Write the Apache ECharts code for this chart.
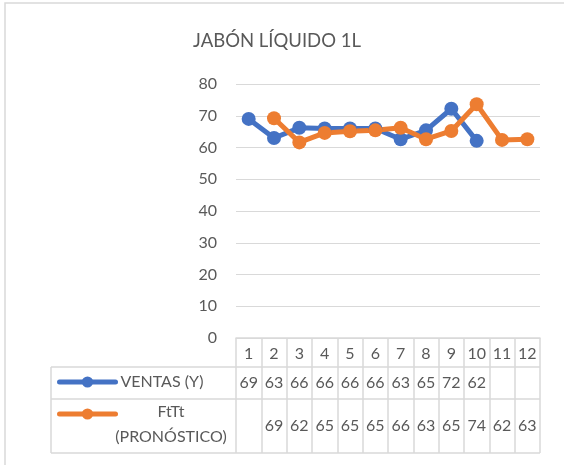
<!DOCTYPE html>
<html>
<head>
<meta charset="utf-8">
<script src="https://cdn.jsdelivr.net/npm/echarts@6/dist/echarts.min.js"></script>
<style>
html,body{margin:0;padding:0;background:#fff;}
#c{width:564px;height:465px;}
</style>
</head>
<body>
<div id="c"></div>
<script>
const title = 'JABÓN LÍQUIDO 1L';
const categories = ['1','2','3','4','5','6','7','8','9','10','11','12'];
const seriesNames = ['VENTAS (Y)', 'FtTt (PRONÓSTICO)'];
const ventas = [69, 63, 66.2, 66, 66, 66, 62.6, 65.4, 72.2, 62.1, null, null];
const pronostico = [null, 69.2, 61.6, 64.6, 65.1, 65.4, 66.2, 62.6, 65.2, 73.6, 62.4, 62.6];
const yTicks = [0, 10, 20, 30, 40, 50, 60, 70, 80];

const FONT = 'Lato';
const TXT = '#595959';
const LINE = '#D9D9D9';
const BLUE = '#4472C4';
const ORANGE = '#ED7D31';

const G = {left: 236, right: 24, top: 84, bottom: 127};
const W = 564, H = 465;
const plotBottom = H - G.bottom;       // 338
const plotRight = W - G.right;         // 540
const row1 = plotBottom + 29;          // 367
const row2 = row1 + 32;                // 399
const row3 = row2 + 54;                // 453
const tableLeft = 51;

const fmt = v => (v === null || v === undefined) ? '' : String(Math.round(v));

const chart = echarts.init(document.getElementById('c'), null, {renderer: 'canvas'});
const lineStyleT = {color: LINE, width: 1.5};

chart.setOption({
  animation: false,
  backgroundColor: '#fff',
  textStyle: {fontFamily: FONT},
  title: {
    text: title, left: 188, top: 27,
    textStyle: {fontFamily: FONT, fontSize: 18.5, fontWeight: 'normal', color: TXT}
  },
  grid: {left: G.left, right: G.right, top: G.top, bottom: G.bottom, containLabel: false},
  legend: [
    {
      data: [seriesNames[0]], orient: 'vertical', left: 57, top: 374, padding: 0,
      itemWidth: 56, itemHeight: 14, itemGap: 5,
      lineStyle: {width: 5, cap: 'round'},
      textStyle: {fontFamily: FONT, fontSize: 16, color: TXT}
    },
    {
      data: [seriesNames[1]], orient: 'vertical', left: 57, top: 407, padding: 0,
      itemWidth: 56, itemHeight: 14,
      lineStyle: {width: 5, cap: 'round'},
      formatter: () => '',
      textStyle: {fontFamily: FONT, fontSize: 16, color: TXT}
    }
  ],
  xAxis: [
    {
      type: 'category', data: categories, position: 'bottom', boundaryGap: true,
      axisLine: {show: true, onZero: false, lineStyle: lineStyleT},
      axisTick: {show: true, length: row3 - plotBottom, lineStyle: lineStyleT},
      axisLabel: {margin: 16, verticalAlign: 'middle', fontSize: 16, color: TXT, fontFamily: FONT, interval: 0},
      splitLine: {show: false}
    },
    {
      type: 'category', data: ventas.map(fmt), position: 'bottom', boundaryGap: true,
      axisLine: {show: false}, axisTick: {show: false},
      axisLabel: {margin: 45, verticalAlign: 'middle', fontSize: 16, color: TXT, fontFamily: FONT, interval: 0},
      splitLine: {show: false}
    },
    {
      type: 'category', data: pronostico.map(fmt), position: 'bottom', boundaryGap: true,
      axisLine: {show: false}, axisTick: {show: false},
      axisLabel: {margin: 88, verticalAlign: 'middle', fontSize: 16, color: TXT, fontFamily: FONT, interval: 0},
      splitLine: {show: false}
    }
  ],
  yAxis: {
    type: 'value', min: yTicks[0], max: yTicks[yTicks.length - 1], interval: 10,
    axisLine: {show: false}, axisTick: {show: false},
    axisLabel: {margin: 19, fontSize: 16, color: TXT, fontFamily: FONT},
    splitLine: {show: true, lineStyle: {color: LINE, width: 1}}
  },
  series: [
    {
      name: seriesNames[0], type: 'line', xAxisIndex: 0, data: ventas,
      symbol: 'circle', symbolSize: 14, connectNulls: false,
      lineStyle: {color: BLUE, width: 5}, itemStyle: {color: BLUE}
    },
    {
      name: seriesNames[1], type: 'line', xAxisIndex: 0, data: pronostico,
      symbol: 'circle', symbolSize: 14, connectNulls: false,
      lineStyle: {color: ORANGE, width: 5}, itemStyle: {color: ORANGE}
    }
  ],
  graphic: [
    {type: 'rect', shape: {x: 5, y: 3, width: 700, height: 600}, style: {fill: 'none', stroke: LINE, lineWidth: 1.5}, silent: true},
    {type: 'line', shape: {x1: tableLeft, y1: row1, x2: plotRight, y2: row1}, style: {stroke: LINE, lineWidth: 1.5}, silent: true},
    {type: 'line', shape: {x1: tableLeft, y1: row2, x2: plotRight, y2: row2}, style: {stroke: LINE, lineWidth: 1.5}, silent: true},
    {type: 'line', shape: {x1: tableLeft, y1: row3, x2: plotRight, y2: row3}, style: {stroke: LINE, lineWidth: 1.5}, silent: true},
    {type: 'line', shape: {x1: tableLeft, y1: row1, x2: tableLeft, y2: row3}, style: {stroke: LINE, lineWidth: 1.5}, silent: true},
    {type: 'text', x: 171, y: 412, style: {text: 'FtTt', fill: TXT, font: '16px ' + FONT, textAlign: 'center', textVerticalAlign: 'middle'}, silent: true},
    {type: 'text', x: 171, y: 437, style: {text: '(PRONÓSTICO)', fill: TXT, font: '16px ' + FONT, textAlign: 'center', textVerticalAlign: 'middle'}, silent: true}
  ]
});
</script>
</body>
</html>
